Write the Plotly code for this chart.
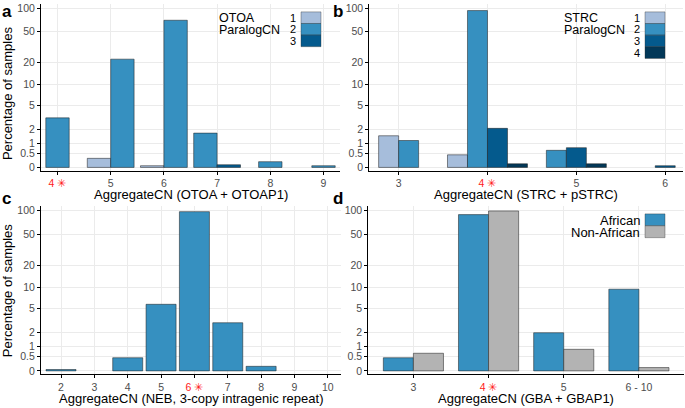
import plotly.graph_objects as go

# ---------------- data ----------------
# Panel a: OTOA, percentage of samples by AggregateCN and ParalogCN
a_x = [4, 5, 6, 7, 8, 9]
a_cn1 = [None, 0.3, 0.05, None, None, None]
a_cn2 = [3.2, 22, 70, 1.7, 0.18, 0.05]
a_cn3 = [None, None, None, 0.08, None, None]

# Panel b: STRC
b_x = [3, 4, 5, 6]
b_cn1 = [1.5, 0.44, None, None]
b_cn2 = [1.18, 93, 0.64, None]
b_cn3 = [None, 2.1, 0.77, 0.05]
b_cn4 = [None, 0.11, 0.11, None]

# Panel c: NEB 3-copy intragenic repeat
c_x = [2, 3, 4, 5, 6, 7, 8, 9, 10]
c_pct = [0.04, None, 0.46, 5.8, 97, 3.0, 0.14, None, None]

# Panel d: GBA
d_cats = ["3", "4", "5", "6 - 10"]
d_african = [0.46, 89, 2.0, 9.5]
d_nonafrican = [0.66, 99, 0.86, 0.1]

y_tick_vals = [0, 0.5, 1, 2, 5, 10, 20, 50, 100]
y_tick_text = ["0", "0.5", "1", "2", "5", "10", "20", "50", "100"]

cn_names = ["1", "2", "3", "4"]
cn_colors = ["#a6bddb", "#3690c0", "#045a8d", "#023858"]
pop_names = ["African", "Non-African"]
pop_colors = ["#3690c0", "#b3b3b3"]

# ---------------- layout constants ----------------
W, H = 685, 408
FONT = "Liberation Sans, Arial, Helvetica, sans-serif"
STAR = "\u2733"
BAR_LINE = dict(color="rgba(30,30,30,0.75)", width=0.7)

fig = go.Figure()


def px(x):
    return x / W


def py(y):
    return 1 - y / H


def grouped(xs, series, names, colors, width, xa, ya):
    n = len(xs)
    counts = [sum(1 for s in series if s[i] is not None) for i in range(n)]
    rank = [0] * n
    for s, name, col in zip(series, names, colors):
        xv, yv, off = [], [], []
        for i in range(n):
            if s[i] is None:
                continue
            k = counts[i]
            j = rank[i]
            rank[i] += 1
            xv.append(xs[i])
            yv.append(s[i])
            off.append(-k * width / 2 + j * width)
        if not xv:
            continue
        fig.add_trace(go.Bar(
            x=xv, y=yv, base=1, offset=off, width=width, name=name,
            marker=dict(color=col, line=BAR_LINE),
            xaxis=xa, yaxis=ya, showlegend=False))


grouped(a_x, [a_cn1, a_cn2, a_cn3], cn_names[:3], cn_colors[:3], 0.44, "x", "y")
grouped(b_x, [b_cn1, b_cn2, b_cn3, b_cn4], cn_names, cn_colors, 0.225, "x2", "y2")
grouped(c_x, [c_pct], ["pct"], ["#3690c0"], 0.9, "x3", "y3")
d_idx = list(range(len(d_cats)))
grouped(d_idx, [d_african, d_nonafrican], pop_names, pop_colors, 0.4, "x4", "y4")


def red(t):
    return "<span style='color:#ff2020'>" + t + " " + STAR + "</span>"


def ticktext_for(vals, ref):
    return [red(str(v)) if v == ref else str(v) for v in vals]


axis_common = dict(
    showline=True, linecolor="black", linewidth=1,
    ticks="outside", ticklen=3, tickcolor="black", tickwidth=1,
    showgrid=True, gridcolor="#ebebeb", gridwidth=1,
    zeroline=False,
    tickfont=dict(family=FONT, size=10.5, color="#4d4d4d"),
    fixedrange=True,
)

y_common = dict(axis_common, type="log", range=[-0.043, 2.056],
                tickmode="array",
                tickvals=[v + 1 for v in y_tick_vals],
                ticktext=y_tick_text)

dom_top = [py(170.5), py(2)]
dom_bot = [py(376), py(206.5)]

fig.update_layout(
    xaxis=dict(axis_common, domain=[px(41), px(340)], range=[3.69, 9.31],
               tickmode="array", tickvals=a_x, ticktext=ticktext_for(a_x, 4),
               anchor="y"),
    yaxis=dict(y_common, domain=dom_top, anchor="x"),
    xaxis2=dict(axis_common, domain=[px(369.3), px(683)], range=[2.67, 6.2],
                tickmode="array", tickvals=b_x, ticktext=ticktext_for(b_x, 4),
                anchor="y2"),
    yaxis2=dict(y_common, domain=dom_top, anchor="x2"),
    xaxis3=dict(axis_common, domain=[px(41), px(340.5)], range=[1.4, 10.38],
                tickmode="array", tickvals=c_x, ticktext=ticktext_for(c_x, 6),
                anchor="y3"),
    yaxis3=dict(y_common, domain=dom_bot, anchor="x3"),
    xaxis4=dict(axis_common, domain=[px(368.3), px(684)], range=[-0.6, 3.6],
                tickmode="array", tickvals=d_idx,
                ticktext=[red(c) if c == "4" else c for c in d_cats],
                anchor="y4"),
    yaxis4=dict(y_common, domain=dom_bot, anchor="x4"),
    barmode="overlay",
    width=W, height=H,
    margin=dict(l=0, r=0, t=0, b=0),
    paper_bgcolor="white", plot_bgcolor="white",
    font=dict(family=FONT, color="black"),
    showlegend=False,
)

annotations = []
shapes = []


def text(x, y, s, size, xanchor="center", yanchor="middle", bold=False, angle=0, color="black"):
    annotations.append(dict(
        x=px(x), y=py(y), xref="paper", yref="paper", text=("<b>%s</b>" % s) if bold else s,
        showarrow=False, xanchor=xanchor, yanchor=yanchor, textangle=angle,
        font=dict(family=FONT, size=size, color=color)))


# panel letters
text(0, 10, "a", 17, xanchor="left", bold=True)
text(331, 10, "b", 17, xanchor="left", bold=True)
text(0, 198, "c", 17, xanchor="left", bold=True)
text(331, 198, "d", 17, xanchor="left", bold=True)

# axis titles
text(7, 93, "Percentage of samples", 13, angle=-90)
text(7, 292, "Percentage of samples", 13, angle=-90)
text(190.5, 194, "AggregateCN (OTOA + OTOAP1)", 13)
text(526, 194, "AggregateCN (STRC + pSTRC)", 13)
text(190.5, 400, "AggregateCN (NEB, 3-copy intragenic repeat)", 13)
text(526, 400, "AggregateCN (GBA + GBAP1)", 13)


def legend(title_lines, title_x, labels, colors, key_x, key_top, key_h, label_x, label_size=11):
    for i, t in enumerate(title_lines):
        text(title_x, 16.5 + i * 11.5, t, 12.5, xanchor="left")
    for i, (lab, col) in enumerate(zip(labels, colors)):
        y0 = key_top + i * key_h
        shapes.append(dict(type="rect", xref="paper", yref="paper",
                           x0=px(key_x), x1=px(key_x + 20), y0=py(y0), y1=py(y0 + key_h),
                           fillcolor=col, line=dict(color="rgba(40,40,40,0.6)", width=0.6)))
        text(label_x, y0 + key_h / 2, lab, label_size, xanchor="right")


legend(["OTOA", "ParalogCN"], 217, cn_names[:3], cn_colors[:3], 301, 10, 11.7, 298)
legend(["STRC", "ParalogCN"], 562, cn_names, cn_colors, 645, 10, 11.75, 642)

# panel d legend
for i, (lab, col) in enumerate(zip(pop_names, pop_colors)):
    y0 = 214 + i * 12
    shapes.append(dict(type="rect", xref="paper", yref="paper",
                       x0=px(645), x1=px(665), y0=py(y0), y1=py(y0 + 12),
                       fillcolor=col, line=dict(color="rgba(40,40,40,0.6)", width=0.6)))
    text(642, y0 + 6.5, lab, 13, xanchor="right")

fig.update_layout(annotations=annotations, shapes=shapes)

fig.write_html(
    "out.html",
    config={"displayModeBar": False, "staticPlot": True},
    post_script="document.body.style.margin='0';document.body.style.padding='0';"
                "document.body.style.overflow='hidden';",
)
